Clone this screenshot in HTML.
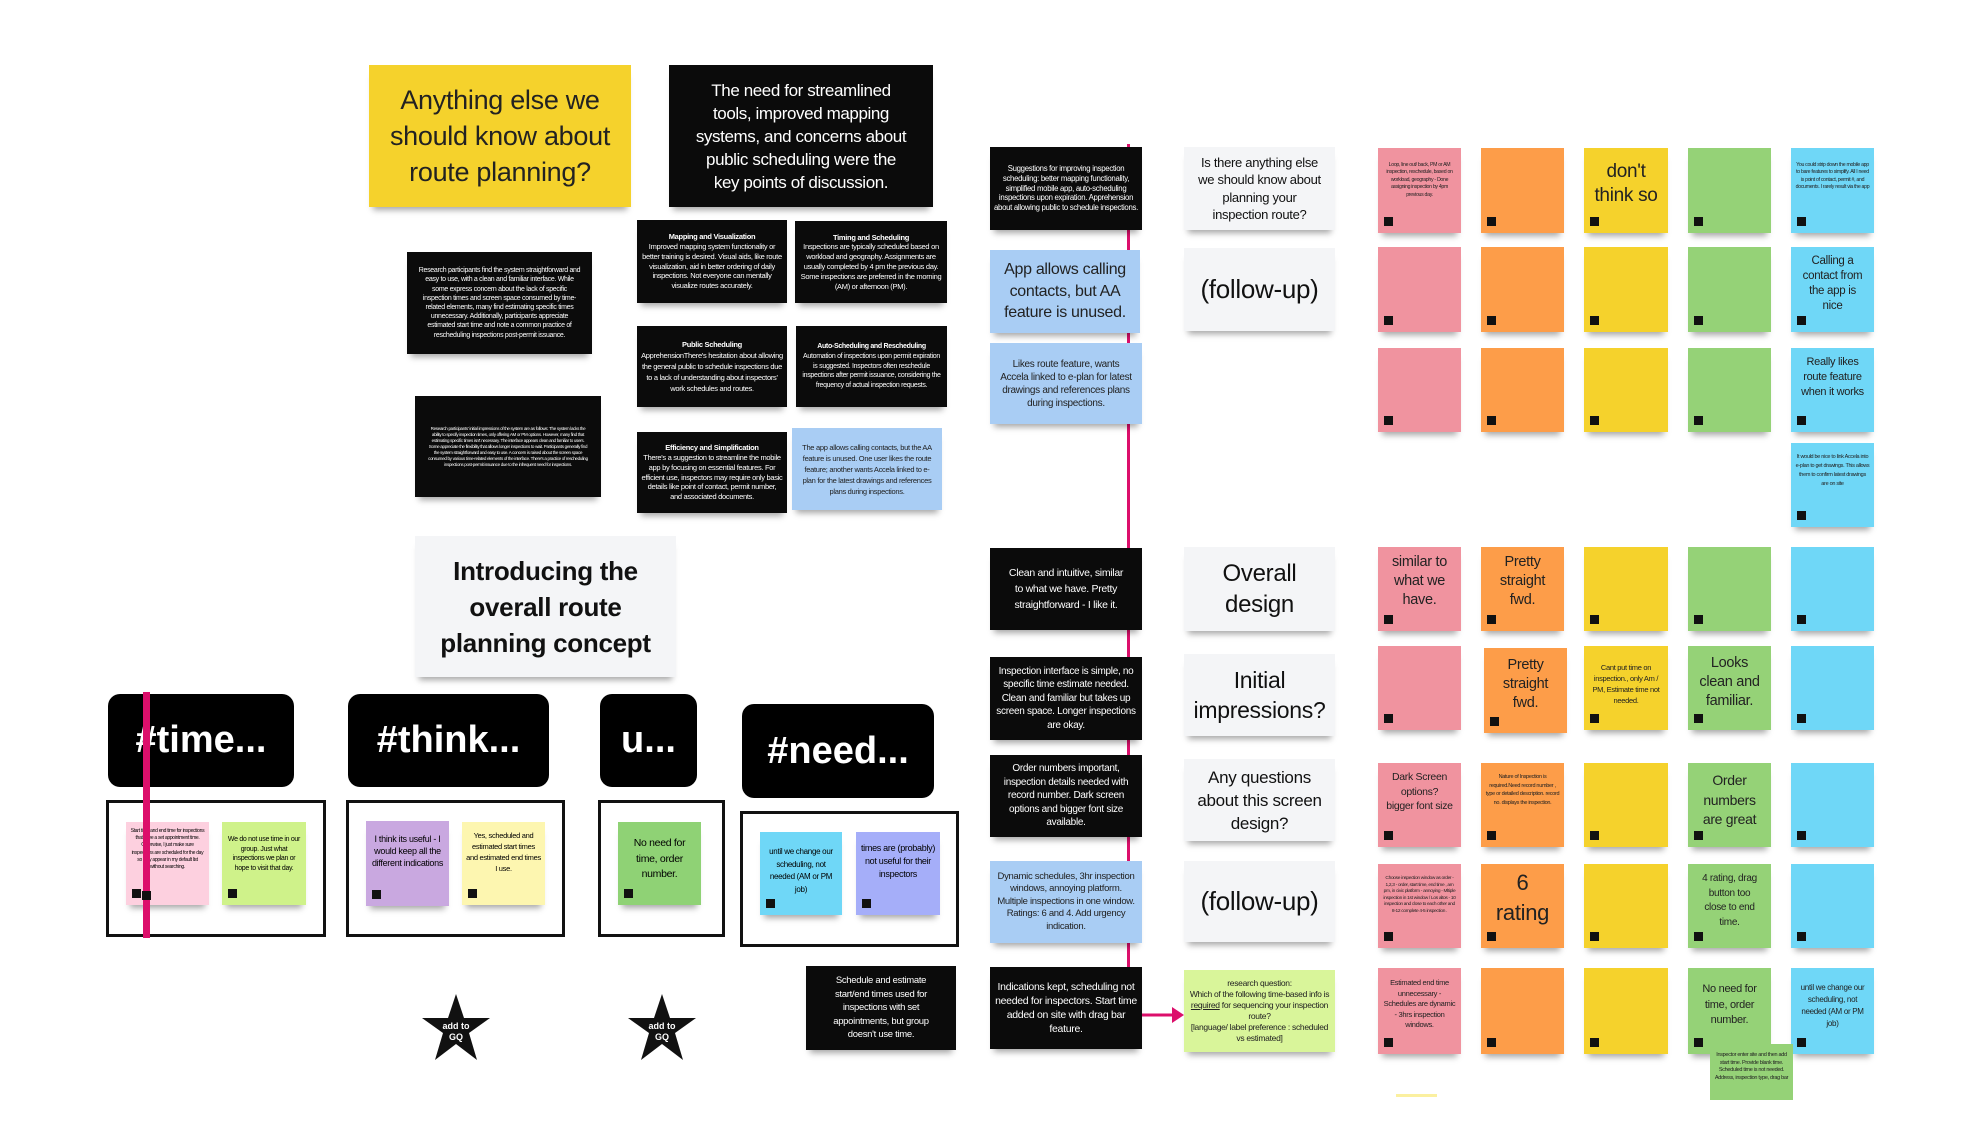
<!DOCTYPE html>
<html><head><meta charset="utf-8"><style>
*{margin:0;padding:0;box-sizing:border-box}
body{width:1964px;height:1140px;background:#fff;position:relative;overflow:hidden;font-family:"Liberation Sans",sans-serif;}
.a{position:absolute;display:flex;align-items:center;justify-content:center;text-align:center;box-shadow:0 7px 6px -4px rgba(0,0,0,.35);padding:4px;letter-spacing:-0.3px}
.k{background:#0b0b0b;color:#fff}
.w{background:#f4f5f7;color:#111}
.lb{background:#a9cdf4;color:#222}
.pk{background:#f0939f;color:#222}
.or{background:#fd9d49;color:#222}
.ye{background:#f5d22c;color:#222}
.gr{background:#95d277;color:#222}
.bl{background:#6fd7f7;color:#222}
.s:after{content:"";position:absolute;left:6px;bottom:7px;width:9px;height:9px;background:#111}
.tag{position:absolute;background:#000;color:#fff;border-radius:12px;display:flex;align-items:center;justify-content:center;font-weight:bold;font-size:38px}
.fr{position:absolute;border:3px solid #111}
b{display:block}
</style></head><body>
<!-- left top -->
<div class="a ye" style="left:369px;top:65px;width:262px;height:142px;font-size:27px;line-height:36px">Anything else we should know about route planning?</div>
<div class="a k" style="left:669px;top:65px;width:264px;height:142px;font-size:17px;line-height:23px;padding:0;white-space:nowrap;letter-spacing:-0.4px"><div>The need for streamlined<br>tools, improved mapping<br>systems, and concerns about<br>public scheduling were the<br>key points of discussion.</div></div>
<div class="a k" style="left:637px;top:220px;width:150px;height:83px;font-size:7.5px;line-height:9.8px"><div><b>Mapping and Visualization</b>Improved mapping system functionality or better training is desired. Visual aids, like route visualization, aid in better ordering of daily inspections. Not everyone can mentally visualize routes accurately.</div></div>
<div class="a k" style="left:795px;top:221px;width:152px;height:82px;font-size:7.5px;line-height:9.8px"><div><b>Timing and Scheduling</b>Inspections are typically scheduled based on workload and geography. Assignments are usually completed by 4 pm the previous day. Some inspections are preferred in the morning (AM) or afternoon (PM).</div></div>
<div class="a k" style="left:407px;top:252px;width:185px;height:102px;font-size:7px;line-height:9.2px;padding:6px 10px">Research participants find the system straightforward and easy to use, with a clean and familiar interface. While some express concern about the lack of specific inspection times and screen space consumed by time-related elements, many find estimating specific times unnecessary. Additionally, participants appreciate estimated start time and note a common practice of rescheduling inspections post-permit issuance.</div>
<div class="a k" style="left:637px;top:326px;width:150px;height:81px;font-size:7.5px;line-height:11px"><div><b>Public Scheduling</b>ApprehensionThere's hesitation about allowing the general public to schedule inspections due to a lack of understanding about inspectors' work schedules and routes.</div></div>
<div class="a k" style="left:796px;top:326px;width:151px;height:81px;font-size:7px;line-height:9.8px"><div><b>Auto-Scheduling and Rescheduling</b>Automation of inspections upon permit expiration is suggested. Inspectors often reschedule inspections after permit issuance, considering the frequency of actual inspection requests.</div></div>
<div class="a k" style="left:415px;top:396px;width:186px;height:101px;font-size:4.5px;line-height:6px;padding:6px 12px">Research participants' initial impressions of the system are as follows: The system lacks the ability to specify inspection times, only offering AM or PM options. However, many find that estimating specific times isn't necessary. The interface appears clean and familiar to users. Some appreciate the flexibility that allows longer inspections to wait. Participants generally find the system straightforward and easy to use. A concern is raised about the screen space consumed by various time-related elements of the interface. There's a practice of rescheduling inspections post-permit issuance due to the infrequent need for inspections.</div>
<div class="a k" style="left:637px;top:432px;width:150px;height:81px;font-size:7.5px;line-height:9.8px"><div><b>Efficiency and Simplification</b>There's a suggestion to streamline the mobile app by focusing on essential features. For efficient use, inspectors may require only basic details like point of contact, permit number, and associated documents.</div></div>
<div class="a lb" style="left:792px;top:428px;width:150px;height:82px;font-size:7.5px;line-height:11px;padding:4px 8px">The app allows calling contacts, but the AA feature is unused. One user likes the route feature; another wants Accela linked to e-plan for the latest drawings and references plans during inspections.</div>
<div class="a w" style="left:415px;top:536px;width:261px;height:141px;font-size:26px;line-height:36px;font-weight:bold">Introducing the overall route planning concept</div>
<!-- tags -->
<div class="tag" style="left:108px;top:694px;width:186px;height:93px">#time...</div>
<div class="tag" style="left:348px;top:694px;width:201px;height:93px">#think...</div>
<div class="tag" style="left:600px;top:694px;width:97px;height:93px">u...</div>
<div class="tag" style="left:742px;top:704px;width:192px;height:94px">#need...</div>
<div class="fr" style="left:106px;top:800px;width:220px;height:137px"></div>
<div class="fr" style="left:346px;top:800px;width:219px;height:137px"></div>
<div class="fr" style="left:598px;top:800px;width:127px;height:137px"></div>
<div class="fr" style="left:740px;top:811px;width:219px;height:136px"></div>
<div class="a s" style="left:126px;top:822px;width:83px;height:83px;background:#fdd0df;font-size:5px;line-height:7.2px;align-items:flex-start;padding-top:6px">Start time and end time for inspections that have a set appointment time. Otherwise, I just make sure inspections are scheduled for the day so they appear in my default list without searching.</div>
<div style="position:absolute;left:143px;top:692px;width:7px;height:246px;background:#dc0f6b"></div>
<div style="position:absolute;left:142px;top:891px;width:9px;height:9px;background:#111"></div>
<div class="a s" style="left:222px;top:822px;width:84px;height:83px;background:#cff28a;font-size:7px;line-height:9.6px;align-items:flex-start;padding-top:13px">We do not use time in our group. Just what inspections we plan or hope to visit that day.</div>
<div class="a s" style="left:366px;top:821px;width:83px;height:85px;background:#c9a8e0;font-size:9px;line-height:12px;align-items:flex-start;padding-top:12px">I think its useful - I would keep all the different indications</div>
<div class="a s" style="left:462px;top:822px;width:83px;height:83px;background:#fdf6b0;font-size:7.5px;line-height:11px;align-items:flex-start;padding-top:8px">Yes, scheduled and estimated start times and estimated end times I use.</div>
<div class="a s" style="left:618px;top:822px;width:83px;height:83px;background:#8fd275;font-size:10.5px;line-height:15.5px;align-items:flex-start;padding-top:14px">No need for time, order number.</div>
<div class="a s" style="left:760px;top:832px;width:82px;height:83px;background:#6fd7f7;font-size:8px;line-height:12.5px;align-items:flex-start;padding-top:14px">until we change our scheduling, not needed (AM or PM job)</div>
<div class="a s" style="left:856px;top:832px;width:84px;height:83px;background:#a5aef9;font-size:9px;line-height:13px;align-items:flex-start;padding-top:10px">times are (probably) not useful for their inspectors</div>
<!-- stars -->
<svg style="position:absolute;left:420px;top:992px" width="72" height="72" viewBox="0 0 72 72"><polygon points="36,2 44,26 70,26 49,41 57,68 36,52 15,68 23,41 2,26 28,26" fill="#111"/><text x="36" y="37" fill="#fff" font-size="9" font-weight="bold" text-anchor="middle" font-family="Liberation Sans">add to</text><text x="36" y="48" fill="#fff" font-size="9" font-weight="bold" text-anchor="middle" font-family="Liberation Sans">GQ</text></svg>
<svg style="position:absolute;left:626px;top:992px" width="72" height="72" viewBox="0 0 72 72"><polygon points="36,2 44,26 70,26 49,41 57,68 36,52 15,68 23,41 2,26 28,26" fill="#111"/><text x="36" y="37" fill="#fff" font-size="9" font-weight="bold" text-anchor="middle" font-family="Liberation Sans">add to</text><text x="36" y="48" fill="#fff" font-size="9" font-weight="bold" text-anchor="middle" font-family="Liberation Sans">GQ</text></svg>
<div class="a k" style="left:806px;top:966px;width:150px;height:84px;font-size:9.5px;line-height:13.5px;padding:4px 12px">Schedule and estimate start/end times used for inspections with set appointments, but group doesn't use time.</div>
<!-- right: vertical line -->
<div style="position:absolute;left:1127px;top:144px;width:3px;height:823px;background:#dc0f6b"></div>
<svg style="position:absolute;left:1140px;top:1004px" width="46" height="22"><line x1="2" y1="11" x2="34" y2="11" stroke="#dc0f6b" stroke-width="3"/><polygon points="32,3 44,11 32,19" fill="#dc0f6b"/></svg>
<div class="a k" style="left:990px;top:147px;width:152px;height:83px;font-size:7.8px;line-height:9.8px">Suggestions for improving inspection scheduling: better mapping functionality, simplified mobile app, auto-scheduling inspections upon expiration. Apprehension about allowing public to schedule inspections.</div>
<div class="a lb" style="left:990px;top:250px;width:150px;height:83px;font-size:16px;line-height:21.5px">App allows calling contacts, but AA feature is unused.</div>
<div class="a lb" style="left:990px;top:343px;width:152px;height:81px;font-size:10px;line-height:13px;padding:4px 8px">Likes route feature, wants Accela linked to e-plan for latest drawings and references plans during inspections.</div>
<div class="a k" style="left:990px;top:548px;width:152px;height:82px;font-size:10.5px;line-height:16px;padding:4px 14px">Clean and intuitive, similar to what we have. Pretty straightforward - I like it.</div>
<div class="a k" style="left:990px;top:657px;width:152px;height:83px;font-size:10px;line-height:13.5px">Inspection interface is simple, no specific time estimate needed. Clean and familiar but takes up screen space. Longer inspections are okay.</div>
<div class="a k" style="left:990px;top:755px;width:152px;height:82px;font-size:10px;line-height:13.5px">Order numbers important, inspection details needed with record number. Dark screen options and bigger font size available.</div>
<div class="a lb" style="left:990px;top:861px;width:152px;height:82px;font-size:9.5px;line-height:12.5px">Dynamic schedules, 3hr inspection windows, annoying platform. Multiple inspections in one window. Ratings: 6 and 4. Add urgency indication.</div>
<div class="a k" style="left:990px;top:967px;width:152px;height:82px;font-size:10.5px;line-height:14px">Indications kept, scheduling not needed for inspectors. Start time added on site with drag bar feature.</div>
<!-- white labels -->
<div class="a w" style="left:1184px;top:147px;width:151px;height:83px;font-size:13px;line-height:17.5px;padding:4px 10px">Is there anything else we should know about planning your inspection route?</div>
<div class="a w" style="left:1184px;top:248px;width:151px;height:83px;font-size:26px">(follow-up)</div>
<div class="a w" style="left:1184px;top:547px;width:151px;height:84px;font-size:24px;line-height:31px">Overall design</div>
<div class="a w" style="left:1184px;top:654px;width:151px;height:82px;font-size:23px;line-height:30px">Initial impressions?</div>
<div class="a w" style="left:1184px;top:759px;width:151px;height:82px;font-size:17px;line-height:23px">Any questions about this screen design?</div>
<div class="a w" style="left:1184px;top:861px;width:151px;height:81px;font-size:26px">(follow-up)</div>
<div class="a" style="left:1184px;top:970px;width:151px;height:82px;background:#d9f59a;font-size:8.5px;line-height:11px;color:#222"><div>research question:<br>Which of the following time-based info is <u>required</u> for sequencing your inspection route?<br>[language/ label preference : scheduled vs estimated]</div></div>
<!-- sticky grid -->
<div class="a s pk" style="left:1378px;top:148px;width:83px;height:85px;font-size:5.2px;line-height:7.4px;align-items:flex-start;padding-top:14px">Loop, line out/ back, PM or AM inspection, reschedule, based on workload, geography - Done assigning inspection by 4pm previous day.</div>
<div class="a s or" style="left:1481px;top:148px;width:83px;height:85px"></div>
<div class="a s ye" style="left:1584px;top:148px;width:84px;height:85px;font-size:19px;line-height:24px;align-items:flex-start;padding-top:12px">don't think so</div>
<div class="a s gr" style="left:1688px;top:148px;width:83px;height:85px"></div>
<div class="a s bl" style="left:1791px;top:148px;width:83px;height:85px;font-size:5.2px;line-height:7.4px;align-items:flex-start;padding-top:14px">You could strip down the mobile app to bare features to simplify. All I need is point of contact, permit #, and documents. I rarely result via the app</div>

<div class="a s pk" style="left:1378px;top:247px;width:83px;height:85px"></div>
<div class="a s or" style="left:1481px;top:247px;width:83px;height:85px"></div>
<div class="a s ye" style="left:1584px;top:247px;width:84px;height:85px"></div>
<div class="a s gr" style="left:1688px;top:247px;width:83px;height:85px"></div>
<div class="a s bl" style="left:1791px;top:247px;width:83px;height:85px;font-size:11.5px;line-height:15px;align-items:flex-start;padding:7px 10px 0">Calling a contact from the app is nice</div>

<div class="a s pk" style="left:1378px;top:348px;width:83px;height:84px"></div>
<div class="a s or" style="left:1481px;top:348px;width:83px;height:84px"></div>
<div class="a s ye" style="left:1584px;top:348px;width:84px;height:84px"></div>
<div class="a s gr" style="left:1688px;top:348px;width:83px;height:84px"></div>
<div class="a s bl" style="left:1791px;top:348px;width:83px;height:84px;font-size:11px;line-height:15px;align-items:flex-start;padding:7px 8px 0">Really likes route feature when it works</div>
<div class="a s bl" style="left:1791px;top:443px;width:83px;height:84px;font-size:5.5px;line-height:9px;align-items:flex-start;padding-top:10px">It would be nice to link Accela into e-plan to get drawings. This allows them to confirm latest drawings are on site</div>

<div class="a s pk" style="left:1378px;top:547px;width:83px;height:84px;font-size:14.5px;line-height:19px;align-items:flex-start;padding:6px 8px 0">similar to what we have.</div>
<div class="a s or" style="left:1481px;top:547px;width:83px;height:84px;font-size:14.5px;line-height:19px;align-items:flex-start;padding:6px 10px 0">Pretty straight fwd.</div>
<div class="a s ye" style="left:1584px;top:547px;width:84px;height:84px"></div>
<div class="a s gr" style="left:1688px;top:547px;width:83px;height:84px"></div>
<div class="a s bl" style="left:1791px;top:547px;width:83px;height:84px"></div>

<div class="a s pk" style="left:1378px;top:646px;width:83px;height:84px"></div>
<div class="a s or" style="left:1484px;top:648px;width:83px;height:85px;font-size:14.5px;line-height:19px;align-items:flex-start;padding:8px 10px 0">Pretty straight fwd.</div>
<div class="a s ye" style="left:1584px;top:646px;width:84px;height:84px;font-size:7.5px;line-height:11px;align-items:flex-start;padding-top:16px">Cant put time on inspection., only Am / PM, Estimate time not needed.</div>
<div class="a s gr" style="left:1688px;top:646px;width:83px;height:84px;font-size:14.5px;line-height:19px;align-items:flex-start;padding:8px 10px 0">Looks clean and familiar.</div>
<div class="a s bl" style="left:1791px;top:646px;width:83px;height:84px"></div>

<div class="a s pk" style="left:1378px;top:763px;width:83px;height:84px;font-size:10.5px;line-height:14.5px;align-items:flex-start;padding:7px 8px 0">Dark Screen options? bigger font size</div>
<div class="a s or" style="left:1481px;top:763px;width:83px;height:84px;font-size:5.5px;line-height:8.6px;align-items:flex-start;padding-top:10px">Nature of Inspection is required.Need record number , type or detailed description. record no. displays the inspection.</div>
<div class="a s ye" style="left:1584px;top:763px;width:84px;height:84px"></div>
<div class="a s gr" style="left:1688px;top:763px;width:83px;height:84px;font-size:14px;line-height:19.5px;align-items:flex-start;padding:8px 10px 0">Order numbers are great</div>
<div class="a s bl" style="left:1791px;top:763px;width:83px;height:84px"></div>

<div class="a s pk" style="left:1378px;top:864px;width:83px;height:84px;font-size:4.8px;line-height:6.5px;align-items:flex-start;padding-top:12px">Choose inspection window as order - 1,2,3 - order, start time, end time , am pm, in civic platform - annoying - Mltiple inspection in 1st window / Los altos - 10 inspection and close to each other and 8-12 complete 4-5 inspection .</div>
<div class="a s or" style="left:1481px;top:864px;width:83px;height:84px;font-size:22px;line-height:30px;align-items:flex-start;padding-top:4px"><div>6<br>rating</div></div>
<div class="a s ye" style="left:1584px;top:864px;width:84px;height:84px"></div>
<div class="a s gr" style="left:1688px;top:864px;width:83px;height:84px;font-size:10px;line-height:14.5px;align-items:flex-start;padding:8px 10px 0">4 rating, drag button too close to end time.</div>
<div class="a s bl" style="left:1791px;top:864px;width:83px;height:84px"></div>

<div class="a s pk" style="left:1378px;top:968px;width:83px;height:86px;font-size:7.5px;line-height:10.5px;align-items:flex-start;padding-top:10px">Estimated end time unnecessary - Schedules are dynamic - 3hrs inspection windows.</div>
<div class="a s or" style="left:1481px;top:968px;width:83px;height:86px"></div>
<div class="a s ye" style="left:1584px;top:968px;width:84px;height:86px"></div>
<div class="a s gr" style="left:1688px;top:968px;width:83px;height:86px;font-size:11px;line-height:15.5px;align-items:flex-start;padding:14px 8px 0">No need for time, order number.</div>
<div class="a s bl" style="left:1791px;top:968px;width:83px;height:86px;font-size:8px;line-height:12px;align-items:flex-start;padding-top:14px">until we change our scheduling, not needed (AM or PM job)</div>
<div class="a" style="left:1710px;top:1044px;width:83px;height:56px;background:#95d277;color:#222;font-size:5.5px;line-height:7.5px;align-items:flex-start;padding-top:8px;box-shadow:none;overflow:hidden">Inspector enter site and then add start time. Provide blank time. Scheduled time is not needed. Address, inspection type, drag bar</div>
<div style="position:absolute;left:1396px;top:1094px;width:41px;height:3px;background:#fbf0a0"></div>
</body></html>
